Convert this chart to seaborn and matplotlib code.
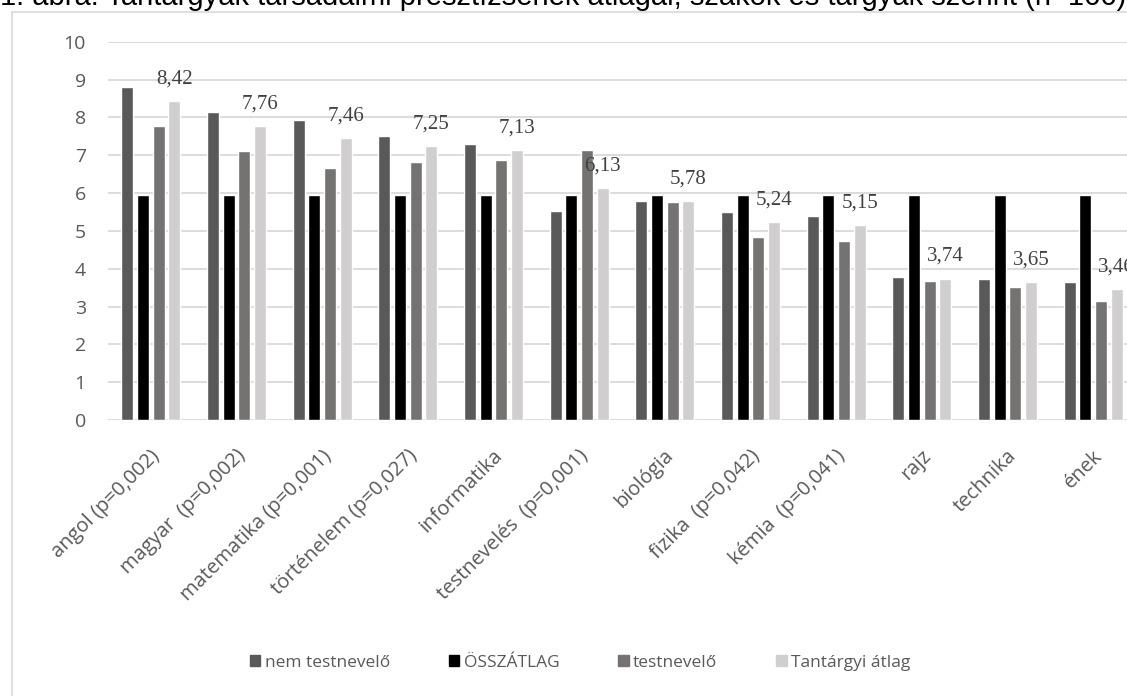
import matplotlib
matplotlib.use("Agg")
import matplotlib.pyplot as plt
import matplotlib.transforms as mtransforms
from matplotlib.patches import Rectangle
import seaborn as sns
import pandas as pd

# Chart data
subjects = ["angol (p=0,002)", "magyar  (p=0,002)", "matematika (p=0,001)",
            "történelem (p=0,027)", "informatika", "testnevelés  (p=0,001)",
            "biológia", "fizika  (p=0,042)", "kémia  (p=0,041)", "rajz",
            "technika", "ének"]
nem_testnevelo = [8.81, 8.14, 7.92, 7.50, 7.29, 5.52, 5.79, 5.49, 5.40, 3.78, 3.73, 3.64]
osszatlag = [5.94] * 12
testnevelo = [7.76, 7.10, 6.67, 6.83, 6.88, 7.15, 5.75, 4.83, 4.72, 3.67, 3.52, 3.15]
tantargyi_atlag = [8.42, 7.76, 7.46, 7.25, 7.13, 6.13, 5.78, 5.24, 5.15, 3.74, 3.65, 3.46]

series_names = ["nem testnevelő", "ÖSSZÁTLAG", "testnevelő", "Tantárgyi átlag"]
colors = {"nem testnevelő": "#595959", "ÖSSZÁTLAG": "#000000",
          "testnevelő": "#767171", "Tantárgyi átlag": "#d0cece"}

df = pd.DataFrame({"tárgy": subjects,
                   "nem testnevelő": nem_testnevelo,
                   "ÖSSZÁTLAG": osszatlag,
                   "testnevelő": testnevelo,
                   "Tantárgyi átlag": tantargyi_atlag})
df_long = df.melt(id_vars="tárgy", var_name="csoport", value_name="átlag")

sns.set_style("white")
plt.rcParams["font.family"] = ["Open Sans", "DejaVu Sans"]

fig = plt.figure(figsize=(11.27, 6.96), dpi=100)
W, H = 1127, 696
ax = fig.add_axes([108 / W, (H - 420) / H, 1028 / W, 378.3 / H])

# light border of the chart area
fig.patches.append(Rectangle((12 / W, -0.1), 1.2, (H - 12) / H + 0.1,
                             transform=fig.transFigure, fill=False,
                             edgecolor="#d9d9d9", linewidth=1.2, zorder=0))

sns.barplot(data=df_long, x="tárgy", y="átlag", hue="csoport",
            hue_order=series_names, palette=colors, width=0.73, gap=0.24,
            errorbar=None, ax=ax, zorder=3)

ax.set_ylim(0, 10)
ax.set_xlim(-0.5, 11.5)
ax.set_yticks(range(0, 11))
ax.grid(axis="y", color="#d9d9d9", linewidth=1.3, zorder=0)
ax.set_axisbelow(True)
for s in ["top", "right", "left", "bottom"]:
    ax.spines[s].set_visible(False)
ax.tick_params(axis="both", length=0, colors="#595959", labelsize=14)
ax.tick_params(axis="y", pad=16)
ax.set_xlabel("")
ax.set_ylabel("")

ax.set_xticks(range(len(subjects)))
ax.set_xticklabels(subjects, rotation=45, ha="right", va="center",
                   rotation_mode="anchor", color="#595959", fontsize=14.5)
offset = mtransforms.ScaledTranslation(6 / 100, -28 / 100, fig.dpi_scale_trans)
for lbl in ax.get_xticklabels():
    lbl.set_transform(lbl.get_transform() + offset)

# value labels above the "Tantárgyi átlag" bars
ax.bar_label(ax.containers[3], labels=[f"{v:.2f}".replace(".", ",") for v in tantargyi_atlag],
             padding=9, fontsize=15, color="#404040",
             fontfamily="Liberation Serif", zorder=5)

ax.legend_.remove()
handles = [Rectangle((0, 0), 1, 1, color=colors[n]) for n in series_names]
fig.legend(handles, series_names, loc="center", bbox_to_anchor=(580 / W, (H - 663) / H),
           ncol=4, frameon=False, handlelength=0.6, handleheight=0.6,
           handletextpad=0.25, columnspacing=3.4, fontsize=12.5,
           labelcolor="#595959")

fig.text(0.0, 1 - 5 / H, "1. ábra: Tantárgyak társadalmi presztízsének átlagai, szakok és tárgyak szerint (n=166)",
         fontsize=21, fontfamily="Liberation Sans", color="black", va="baseline", ha="left")

fig.savefig("out.png", dpi=100)
